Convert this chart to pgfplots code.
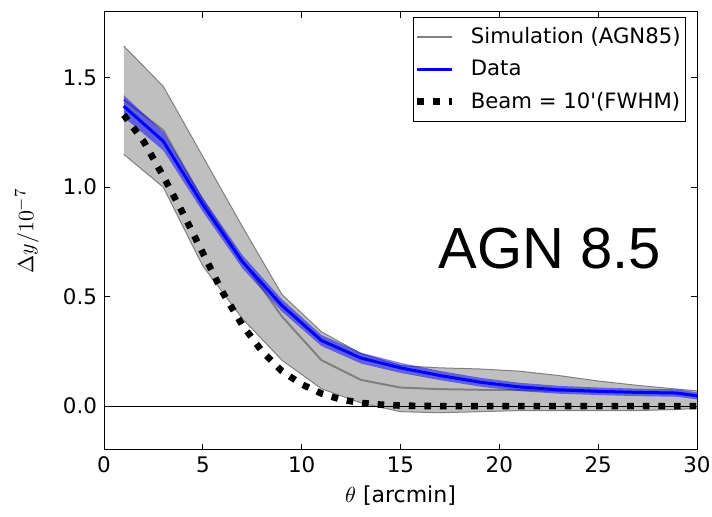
\documentclass[border=0pt]{standalone}
\usepackage{fontspec}
\setmainfont{DejaVu Sans}
\newfontfamily\arialfont{Liberation Sans}
\usepackage{pgfplots}
\pgfplotsset{compat=1.18}

\begin{document}
\begin{tikzpicture}
\begin{axis}[
  scale only axis, width=296.5pt, height=219pt,
  xmin=0, xmax=30, ymin=-0.2, ymax=1.8,
  xtick={0,5,...,30}, ytick={0,0.5,1,1.5},
  yticklabel style={/pgf/number format/.cd, fixed, fixed zerofill, precision=1},
  /pgf/number format/assume math mode=true,
  tick label style={font=\fontsize{10.7}{12.8}\selectfont},
  tick align=inside, xtick pos=both, ytick pos=both,
  major tick length=3pt,
  tick style={black, line width=0.5pt},
  axis line style={black, line width=0.5pt},
  xlabel={$\theta$ [arcmin]}, ylabel={$\Delta y/10^{-7}$},
  label style={font=\fontsize{11}{13}\selectfont},
  xlabel style={at={(axis description cs:0.5,-0.103)}, anchor=center},
  ylabel style={at={(axis description cs:-0.13,0.5)}, anchor=center},
  legend cell align=left,
  legend style={at={(rel axis cs:1,1)}, anchor=north east, xshift=-5.5pt, yshift=-2.5pt,
    draw=black, line width=0.5pt, font=\fontsize{10.6}{12.6}\selectfont,
    row sep=2.8pt, column sep=6pt, inner xsep=0.5pt, inner ysep=3pt},
]
% simulation band (upper then lower reversed)
\addplot[fill=gray!50, draw=none, forget plot] coordinates {
 (1,1.645) (3,1.46) (5,1.14) (7,0.82) (9,0.51) (11,0.34) (13,0.24) (15,0.185)
 (17,0.175) (19,0.17) (21,0.16) (23,0.14) (25,0.115) (27,0.095) (29,0.078) (30,0.07)
 (30,-0.01) (29,-0.015) (27,-0.02) (25,-0.02) (23,-0.02) (21,-0.02) (19,-0.025) (17,-0.03)
 (15,-0.025) (13,0.015) (11,0.08) (9,0.21) (7,0.40) (5,0.64) (3,1.00) (1,1.15)
} -- cycle;
\addplot[gray, line width=0.5pt, forget plot] coordinates {
 (1,1.645) (3,1.46) (5,1.14) (7,0.82) (9,0.51) (11,0.34) (13,0.24) (15,0.185)
 (17,0.175) (19,0.17) (21,0.16) (23,0.14) (25,0.115) (27,0.095) (29,0.078) (30,0.07)};
\addplot[gray, line width=0.5pt, forget plot] coordinates {
 (1,1.15) (3,1.00) (5,0.64) (7,0.40) (9,0.21) (11,0.08) (13,0.015) (15,-0.025)
 (17,-0.03) (19,-0.025) (21,-0.02) (23,-0.02) (25,-0.02) (27,-0.02) (29,-0.015) (30,-0.01)};
\addplot[black, line width=0.5pt, forget plot] coordinates {(0,0) (30,0)};
% simulation mean
\addplot[gray, line width=1pt] coordinates {
 (1,1.40) (3,1.26) (5,0.94) (7,0.665) (9,0.41) (11,0.21) (13,0.12) (15,0.085)
 (17,0.078) (19,0.075) (21,0.074) (23,0.07) (25,0.066) (27,0.063) (29,0.06) (30,0.05)};
\addlegendentry{Simulation (AGN85)}
% data band
\addplot[fill=blue, fill opacity=0.5, draw=none, forget plot] coordinates {
 (1,1.42) (3,1.252) (5,0.952) (7,0.69) (9,0.488) (11,0.325) (13,0.245) (15,0.198)
 (17,0.161) (19,0.13) (21,0.107) (23,0.093) (25,0.085) (27,0.08) (29,0.077) (30,0.063)
 (30,0.031) (29,0.043) (27,0.046) (25,0.051) (23,0.057) (21,0.069) (19,0.09) (17,0.119)
 (15,0.152) (13,0.195) (11,0.275) (9,0.432) (7,0.63) (5,0.888) (3,1.168) (1,1.32)
} -- cycle;
% data
\addplot[blue, line width=1.5pt] coordinates {
 (1,1.37) (3,1.21) (5,0.92) (7,0.66) (9,0.46) (11,0.30) (13,0.22) (15,0.175)
 (17,0.14) (19,0.11) (21,0.088) (23,0.075) (25,0.068) (27,0.063) (29,0.060) (30,0.047)};
\addlegendentry{Data}
% beam
\addplot[black, line width=3.3pt, dash pattern=on 3.3pt off 4.5pt] coordinates {
 (1,1.33) (2,1.21) (3,1.05) (4,0.88) (5,0.70) (6,0.52) (7,0.37) (8,0.25) (9,0.16)
 (10,0.10) (11,0.058) (12,0.03) (13,0.015) (14,0.007) (15,0.003) (16,0.001) (18,0) (30,0)};
\addlegendentry{Beam = 10\textquotesingle(FWHM)}
\node[anchor=base, inner sep=0pt, font=\arialfont\fontsize{29}{34}\selectfont] at (axis cs:22.55,0.63) {AGN 8.5};
\end{axis}
\pgfresetboundingbox
\path[use as bounding box] ([shift={(-52pt,-33.5pt)}]current axis.south west) rectangle ([shift={(7.5pt,6pt)}]current axis.north east);
\end{tikzpicture}
\end{document}
